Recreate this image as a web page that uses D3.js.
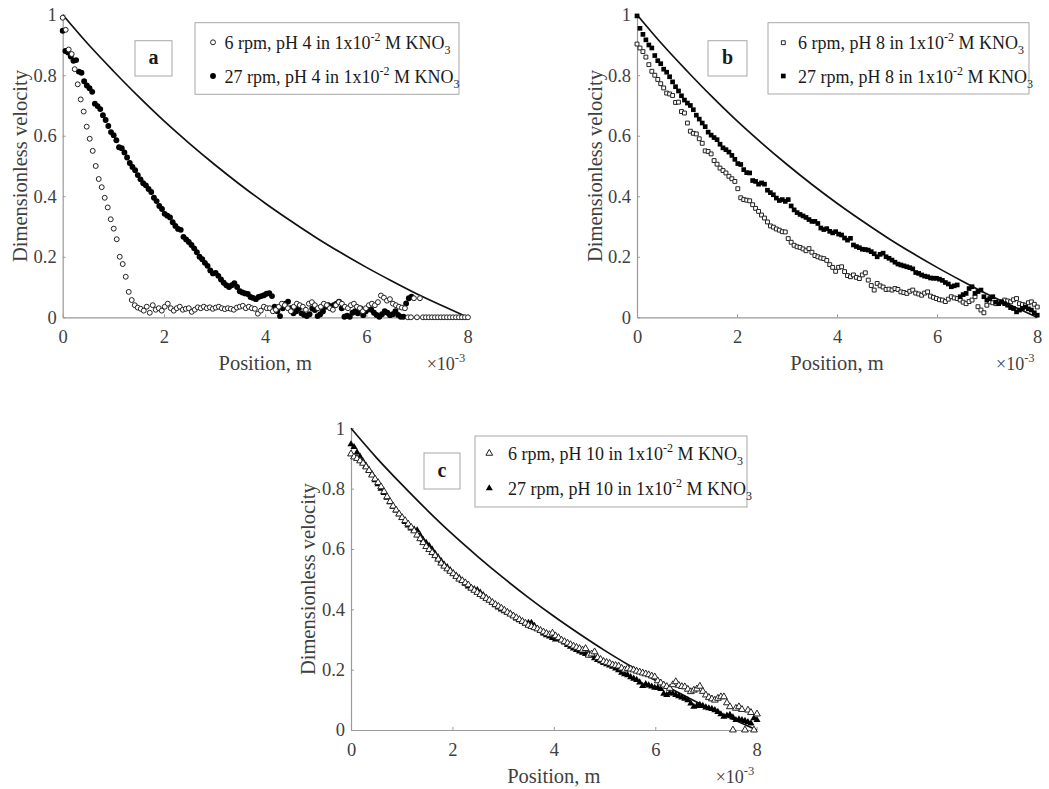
<!DOCTYPE html>
<html><head><meta charset="utf-8">
<script src="https://cdn.jsdelivr.net/npm/d3@7/dist/d3.min.js"></script>
<style>body{margin:0;background:#fff}svg{display:block}</style>
</head><body>
<svg id="chart" width="1049" height="789"></svg>
<script>
// ---------------- DATA ----------------
const xTicks = [0, 2, 4, 6, 8];
const yTicks = [0, 0.2, 0.4, 0.6, 0.8, 1];
const xUnitLabel = "×10";
const xUnitExp = "-3";
const xAxisTitle = "Position, m";
const yAxisTitle = "Dimensionless velocity";
const panelLetters = ["a", "b", "c"];

// theoretical curve (position in 1e-3 m, dimensionless velocity)
const modelX = [0, 0.5, 1, 1.5, 2, 2.5, 3, 3.5, 4, 4.5, 5, 5.5, 6, 6.5, 7, 7.5, 8];
const modelV = [1.0, 0.903, 0.814, 0.729, 0.649, 0.575, 0.505, 0.439, 0.377, 0.319, 0.264, 0.213, 0.165, 0.120, 0.077, 0.038, 0.0];

// sampling step of the measured profiles (1e-3 m)
const stepSlow = 0.0593;
const stepFastA = 0.053;
const stepFast = 0.0593;

// panel a: pH 4
const a6rpm = [0.99,0.95,0.885,0.87,0.82,0.77,0.72,0.68,0.63,0.59,0.55,0.50,0.457,0.43,0.395,0.363,0.324,0.293,0.258,0.20,0.176,0.134,0.084,0.057,0.04,
0.032,0.028,0.022,0.035,0.015,0.04,0.025,0.03,0.022,0.035,0.045,0.03,0.022,0.03,0.035,0.025,0.028,0.03,0.018,0.025,0.033,0.03,0.035,0.03,0.033,0.028,0.032,0.035,0.03,0.027,0.03,0.028,0.025,0.032,0.035,0.038,0.03,0.035,0.03,0.028,0.012,0.022,0.035,0.03,
0.03,0.02,0.025,0.035,0.045,0.04,0.03,0.02,0.035,0.045,0.04,0.035,0.025,0.045,0.05,0.04,0.03,0.035,0.045,0.04,0.03,0.025,0.04,0.05,0.045,0.035,0.03,0.04,0.045,0.035,0.03,0.02,0.03,0.04,0.045,0.04,
0.05,0.072,0.065,0.055,0.06,0.045,0.04,0.035,0.032,0.03,0,0,0.063,0,0.063,
0,0,0,0,0,0,0,0,0,0,0,0,0,0,0,0];
const a27rpm = [0.947,0.88,0.875,0.862,0.848,0.85,0.812,0.808,0.78,0.766,
0.757,0.745,0.706,0.698,0.688,0.668,0.652,0.632,0.612,0.602,
0.585,0.562,0.559,0.545,0.528,0.51,0.497,0.486,0.47,0.456,
0.443,0.436,0.424,0.414,0.395,0.384,0.368,0.358,0.342,0.336,
0.33,0.314,0.302,0.292,0.289,0.266,0.257,0.249,0.239,0.228,
0.215,0.2,0.192,0.18,0.17,0.155,0.145,0.147,0.137,0.125,
0.114,0.106,0.1,0.106,0.113,0.1,0.086,0.082,0.079,0.077,
0.067,0.064,0.06,0.067,0.07,0.073,0.078,0.08,0.07,0.035,
0.02,0.004,0.03,0.045,0.052,0.03,0.013,0.02,0.03,0.013,
0.008,0.004,0.01,0.029,0.024,0.004,0.01,0.02,0.035,0.04,
0.03,0.04,0.045,0.052,0.03,0.002,0.005,0.002,0.015,0.02,
0.013,0.029,0.007,0.02,0.03,0.025,0.015,0.008,0.002,0.01,
0.02,0.015,0.007,0.01,0.02,0.008,0.002,0.002,0.046,0.063,0.068];

// panel b: pH 8
const b6rpm = [0.903,0.89,0.878,0.86,0.835,0.813,0.80,0.786,0.772,0.758,
0.741,0.738,0.733,0.71,0.711,0.68,0.675,0.642,0.615,0.608,
0.606,0.59,0.575,0.55,0.548,0.54,0.518,0.506,0.493,0.485,
0.477,0.466,0.458,0.449,0.425,0.395,0.389,0.387,0.385,0.372,
0.36,0.35,0.338,0.328,0.315,0.302,0.298,0.292,0.288,0.283,
0.282,0.26,0.248,0.238,0.233,0.231,0.226,0.22,0.227,0.215,
0.204,0.2,0.196,0.194,0.188,0.174,0.165,0.152,0.165,0.167,
0.151,0.138,0.134,0.14,0.132,0.128,0.14,0.147,0.123,0.105,
0.09,0.112,0.104,0.1,0.092,0.093,0.09,0.095,0.092,0.084,
0.082,0.079,0.086,0.09,0.08,0.077,0.073,0.08,0.084,0.07,
0.066,0.062,0.058,0.057,0.052,0.06,0.068,0.064,0.062,0.057,
0.05,0.045,0.052,0.057,0.068,0.035,0.024,0.015,0.04,0.051,
0.048,0.045,0.05,0.051,0.057,0.054,0.051,0.058,0.062,0.045,
0.042,0.04,0.048,0.051,0.043,0.034];
const b27rpm = [0.996,0.955,0.935,0.917,0.9,0.89,0.865,0.848,0.838,0.82,
0.81,0.795,0.778,0.762,0.748,0.732,0.718,0.708,0.7,0.686,
0.668,0.655,0.642,0.63,0.612,0.602,0.594,0.587,0.572,0.56,
0.554,0.546,0.535,0.522,0.508,0.505,0.488,0.478,0.477,0.452,
0.449,0.44,0.444,0.44,0.42,0.412,0.405,0.394,0.386,0.389,
0.383,0.389,0.368,0.355,0.346,0.34,0.335,0.33,0.323,0.317,
0.317,0.31,0.295,0.29,0.293,0.284,0.279,0.283,0.275,0.272,
0.262,0.255,0.261,0.239,0.234,0.23,0.225,0.224,0.222,0.217,
0.21,0.2,0.208,0.212,0.2,0.195,0.189,0.182,0.176,0.173,
0.17,0.167,0.164,0.16,0.148,0.145,0.14,0.136,0.134,0.13,
0.129,0.129,0.126,0.122,0.115,0.11,0.101,0.104,0.107,0.068,
0.075,0.079,0.095,0.101,0.079,0.085,0.09,0.068,0.057,0.062,
0.068,0.05,0.045,0.051,0.045,0.04,0.032,0.029,0.018,0.024,
0.03,0.034,0.028,0.024,0.015,0.007];

// panel c: pH 10
const c6rpm = [0.915,0.905,0.9,0.892,0.884,0.872,0.86,0.845,0.832,0.82,
0.806,0.79,0.773,0.757,0.742,0.729,0.716,0.704,0.694,0.683,
0.672,0.66,0.646,0.634,0.621,0.608,0.598,0.588,0.578,0.566,
0.553,0.543,0.534,0.526,0.518,0.509,0.5,0.495,0.488,0.481,
0.47,0.463,0.456,0.449,0.443,0.436,0.43,0.423,0.416,0.41,
0.404,0.397,0.39,0.384,0.378,0.372,0.366,0.36,0.354,0.347,
0.343,0.339,0.335,0.33,0.325,0.32,0.316,0.321,0.312,0.306,
0.298,0.293,0.288,0.283,0.278,0.274,0.27,0.265,0.27,0.248,
0.252,0.259,0.24,0.234,0.227,0.224,0.221,0.216,0.214,0.212,
0.205,0.199,0.204,0.202,0.199,0.195,0.192,0.189,0.186,0.183,
0.179,0.176,0.163,0.156,0.149,0.144,0.138,0.15,0.16,0.148,
0.144,0.143,0.135,0.127,0.132,0.136,0.145,0.128,0.116,0.108,
0.103,0.099,0.105,0.11,0.11,0.09,0.077,0,0.072,0.077,
0.068,0,0.066,0.058,0,0.053];
const c27rpm = [0.947,0.938,0.92,0.906,0.89,0.876,0.862,0.848,0.828,0.815,
0.8,0.786,0.77,0.755,0.74,0.728,0.715,0.703,0.69,0.678,
0.668,0.665,0.662,0.645,0.63,0.62,0.61,0.598,0.584,0.572,
0.56,0.548,0.54,0.53,0.52,0.512,0.504,0.494,0.485,0.476,
0.47,0.467,0.464,0.455,0.447,0.438,0.43,0.422,0.414,0.406,
0.4,0.394,0.39,0.386,0.378,0.37,0.364,0.358,0.352,0.355,
0.355,0.345,0.335,0.328,0.32,0.314,0.31,0.305,0.3,0.302,
0.298,0.29,0.282,0.276,0.27,0.265,0.26,0.256,0.252,0.254,
0.246,0.238,0.232,0.228,0.222,0.218,0.214,0.21,0.204,0.198,
0.19,0.185,0.182,0.175,0.17,0.166,0.158,0.146,0.152,0.148,
0.144,0.14,0.14,0.136,0.12,0.116,0.122,0.121,0.116,0.112,
0.108,0.104,0.099,0.088,0.077,0.08,0.083,0.08,0.075,0.072,
0.07,0.066,0.06,0.052,0.044,0.048,0.05,0.042,0.033,0.035,
0.033,0.03,0.026,0.022,0.039,0.033];

const legendA = ["6 rpm, pH 4 in 1x10", "27 rpm, pH 4 in 1x10"];
const legendB = ["6 rpm, pH 8 in 1x10", "27 rpm, pH 8 in 1x10"];
const legendC = ["6 rpm, pH 10 in 1x10", "27 rpm, pH 10 in 1x10"];
const legendExp = "-2";
const legendTail = " M KNO";
const legendSub = "3";

// ---------------- DRAWING ----------------
const FONT = "'Liberation Serif','Times New Roman',serif";
const TEXT = "#3f3f3f";
const AXIS = "#9a9a9a";
const svg = d3.select("#chart");

function toPoints(vals, step) { return vals.map((v, i) => ({x: i * step, v})); }

const panels = [
  {letter: panelLetters[0], L: 62.7, R: 467.7, T: 14.7, B: 317.3, yTitleX: 27, shape: d3.symbolCircle,
   slow: toPoints(a6rpm, stepSlow), fast: toPoints(a27rpm, stepFastA), order: ["fast", "slow"],
   legend: legendA, box: [195, 22.7, 264, 71.6], mkX: 213, txX: 224.5, rows: [42.3, 76],
   lbox: [135, 40.7, 37, 35.3], slowSize: 19, fastSize: 27},
  {letter: panelLetters[1], L: 637, R: 1037, T: 14.7, B: 317.3, yTitleX: 602, shape: d3.symbolSquare,
   slow: toPoints(b6rpm, stepSlow), fast: toPoints(b27rpm, stepFast), order: ["slow", "fast"],
   legend: legendB, box: [768, 22.7, 261, 71.3], mkX: 783.3, txX: 798, rows: [42.7, 76],
   lbox: [708, 40.7, 39, 35.3], slowSize: 15, fastSize: 22},
  {letter: panelLetters[2], L: 351, R: 756.7, T: 428.3, B: 730, yTitleX: 315, shape: d3.symbolTriangle,
   slow: toPoints(c6rpm, stepSlow), fast: toPoints(c27rpm, stepFast), order: ["fast", "slow"],
   legend: legendC, box: [475, 436, 272, 71], mkX: 489.3, txX: 508, rows: [453.3, 488.3],
   lbox: [424, 453, 36, 36], slowSize: 20, fastSize: 22}
];

function drawPanel(p) {
  const x = d3.scaleLinear().domain([0, 8]).range([p.L, p.R]);
  const y = d3.scaleLinear().domain([0, 1]).range([p.B, p.T]);
  const g = svg.append("g");

  // axes
  const xa = g.append("g").attr("transform", `translate(0,${p.B})`)
    .call(d3.axisBottom(x).tickValues(xTicks).tickSizeInner(-3).tickSizeOuter(0).tickPadding(13)
      .tickFormat(d3.format("d")));
  const ya = g.append("g").attr("transform", `translate(${p.L},0)`)
    .call(d3.axisLeft(y).tickValues(yTicks).tickSizeInner(-3).tickSizeOuter(0).tickPadding(6)
      .tickFormat(d => (d === 0 || d === 1) ? String(d) : d3.format(".1f")(d)));
  [xa, ya].forEach(a => {
    a.select(".domain").attr("stroke", AXIS).attr("stroke-width", 1.2);
    a.selectAll(".tick line").attr("stroke", AXIS).attr("stroke-width", 1);
    a.selectAll(".tick text").attr("fill", TEXT).attr("font-family", FONT).attr("font-size", 18.5);
  });

  // axis titles
  g.append("text").attr("x", (p.L + p.R) / 2).attr("y", p.B + 53)
    .attr("text-anchor", "middle").attr("font-family", FONT).attr("font-size", 20.5).attr("fill", TEXT)
    .text(xAxisTitle);
  g.append("text").attr("transform", `translate(${p.yTitleX},${(p.T + p.B) / 2}) rotate(-90)`)
    .attr("text-anchor", "middle").attr("font-family", FONT).attr("font-size", 20.5).attr("fill", TEXT)
    .text(yAxisTitle);
  const ux = g.append("text").attr("x", p.R - 41).attr("y", p.B + 53)
    .attr("font-family", FONT).attr("font-size", 18).attr("fill", TEXT);
  ux.append("tspan").text(xUnitLabel);
  ux.append("tspan").attr("font-size", 12.5).attr("dy", -8).text(xUnitExp);

  // model curve
  g.append("path").datum(modelX.map((d, i) => [d, modelV[i]]))
    .attr("fill", "none").attr("stroke", "#111").attr("stroke-width", 1.7)
    .attr("d", d3.line().x(d => x(d[0])).y(d => y(d[1])).curve(d3.curveMonotoneX));

  // markers
  const styles = {
    slow: {fill: "#fff", stroke: "#222", sw: 1, size: p.slowSize},
    fast: {fill: "#000", stroke: "none", sw: 0, size: p.fastSize}
  };
  p.order.forEach(key => {
    const st = styles[key];
    g.append("g").selectAll("path").data(p[key]).join("path")
      .attr("transform", d => `translate(${x(d.x)},${y(d.v)})`)
      .attr("d", d3.symbol().type(p.shape).size(st.size))
      .attr("fill", st.fill).attr("stroke", st.stroke).attr("stroke-width", st.sw);
  });

  // legend
  const [bx, by, bw, bh] = p.box;
  g.append("rect").attr("x", bx).attr("y", by).attr("width", bw).attr("height", bh)
    .attr("fill", "#fff").attr("stroke", "#a8a8a8").attr("stroke-width", 1);
  ["slow", "fast"].forEach((key, i) => {
    const st = styles[key];
    g.append("path").attr("transform", `translate(${p.mkX},${p.rows[i]})`)
      .attr("d", d3.symbol().type(p.shape).size(st.size))
      .attr("fill", st.fill).attr("stroke", st.stroke).attr("stroke-width", st.sw);
    const t = g.append("text").attr("x", p.txX).attr("y", p.rows[i] + 6.5)
      .attr("font-family", FONT).attr("font-size", 18).attr("fill", "#1a1a1a");
    t.append("tspan").text(p.legend[i]);
    t.append("tspan").attr("font-size", 12).attr("dy", -8).text(legendExp);
    t.append("tspan").attr("font-size", 18).attr("dy", 8).text(legendTail);
    t.append("tspan").attr("font-size", 12).attr("dy", 5).text(legendSub);
  });

  // panel letter box
  const [lx, ly, lw, lh] = p.lbox;
  g.append("rect").attr("x", lx).attr("y", ly).attr("width", lw).attr("height", lh)
    .attr("fill", "#fff").attr("stroke", "#a8a8a8").attr("stroke-width", 1);
  g.append("text").attr("x", lx + lw / 2).attr("y", ly + lh / 2 + 6)
    .attr("text-anchor", "middle").attr("font-family", FONT).attr("font-weight", "bold")
    .attr("font-size", 20).attr("fill", "#1a1a1a").text(p.letter);
}

panels.forEach(drawPanel);
</script>
</body></html>
